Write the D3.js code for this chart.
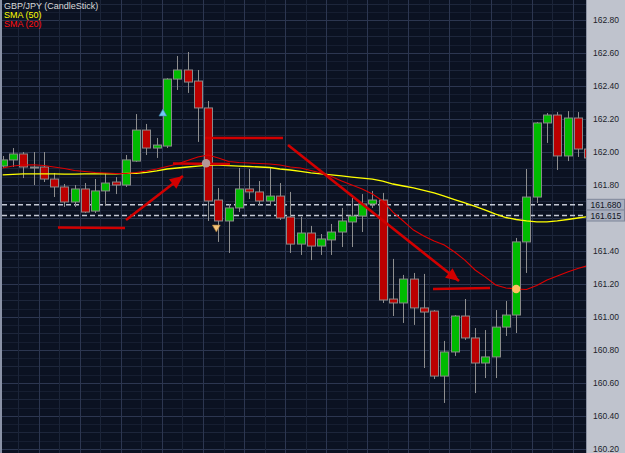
<!DOCTYPE html>
<html>
<head>
<meta charset="utf-8">
<script src="https://cdn.jsdelivr.net/npm/d3@7"></script>
<style>
  body { margin: 0; background: #0b1222; }
  svg { display: block; }
  text { font-family: Arial, "Liberation Sans", sans-serif; }
</style>
</head>
<body>
<div class="grafico"></div>
<script>
// GBP/JPY candles, one per bar
var open = [161.915,161.952,161.988,161.909,161.909,161.836,161.788,161.697,161.776,161.642,
  161.764,161.818,161.800,161.945,162.133,162.024,162.036,162.442,162.497,162.430,
  162.267,161.709,161.582,161.661,161.776,161.758,161.703,161.733,161.606,161.442,
  161.509,161.430,161.467,161.515,161.576,161.612,161.685,161.709,161.109,161.085,
  161.230,161.055,161.036,160.642,160.788,161.006,160.873,160.721,160.758,160.939,
  161.012,161.455,161.727,162.176,162.224,161.976,162.206,162.018];
var high = [161.976,162.024,162.000,162.000,162.000,161.873,161.806,161.800,161.812,161.836,
  161.873,161.848,161.982,162.230,162.170,162.085,162.448,162.582,162.606,162.497,
  162.309,161.782,161.685,161.903,161.897,161.824,161.903,161.812,161.758,161.606,
  161.552,161.503,161.564,161.661,161.721,161.745,161.764,161.752,161.352,161.255,
  161.267,161.261,161.042,160.855,161.012,161.109,160.933,160.921,161.042,161.097,
  161.479,161.897,162.182,162.236,162.242,162.248,162.242,162.030];
var low = [161.903,161.909,161.842,161.800,161.818,161.727,161.667,161.667,161.630,161.630,
  161.673,161.745,161.788,161.940,161.982,161.964,162.024,162.376,162.358,162.061,
  161.582,161.455,161.388,161.636,161.715,161.679,161.679,161.588,161.388,161.376,
  161.345,161.376,161.376,161.424,161.424,161.515,161.661,161.085,161.006,160.964,
  160.952,160.691,160.624,160.479,160.764,160.861,160.539,160.630,160.630,160.885,
  160.903,161.267,161.691,162.055,161.891,161.945,161.970,161.950];
var close = [161.952,161.988,161.909,161.909,161.836,161.788,161.697,161.776,161.636,161.764,
  161.812,161.800,161.952,162.133,162.024,162.042,162.442,162.497,162.424,162.267,
  161.703,161.582,161.661,161.776,161.758,161.703,161.733,161.600,161.442,161.509,
  161.430,161.473,161.515,161.582,161.612,161.685,161.709,161.103,161.085,161.230,
  161.055,161.030,160.642,160.788,161.006,160.873,160.721,160.758,160.939,161.012,
  161.455,161.727,162.176,162.224,161.976,162.206,162.018,161.964];

// moving averages, one value per bar
var sma50 = [161.861,161.864,161.867,161.868,161.867,161.867,161.866,161.866,161.867,161.868,
  161.868,161.867,161.870,161.870,161.876,161.885,161.897,161.903,161.909,161.915,
  161.921,161.921,161.918,161.915,161.912,161.909,161.906,161.897,161.891,161.882,
  161.873,161.867,161.861,161.855,161.848,161.842,161.836,161.824,161.806,161.794,
  161.782,161.767,161.752,161.733,161.712,161.691,161.670,161.648,161.624,161.603,
  161.591,161.582,161.576,161.576,161.582,161.591,161.600,161.609];
var sma20 = [161.903,161.915,161.921,161.923,161.918,161.909,161.900,161.888,161.882,161.876,
  161.873,161.870,161.870,161.876,161.885,161.897,161.912,161.927,161.948,161.970,
  161.982,161.964,161.942,161.936,161.933,161.930,161.927,161.921,161.909,161.903,
  161.888,161.873,161.852,161.824,161.800,161.776,161.745,161.703,161.636,161.582,
  161.527,161.491,161.461,161.436,161.394,161.345,161.285,161.242,161.194,161.176,
  161.170,161.167,161.191,161.224,161.248,161.273,161.294,161.312];

var priceTicks = [162.8,162.6,162.4,162.2,162.0,161.8,161.4,161.2,161.0,160.8,160.6,160.4,160.2];
var levels = [161.680, 161.615];
var legend = [["GBP/JPY (CandleStick)", "#d8d8d8"], ["SMA (50)", "#ffff00"], ["SMA (20)", "#ff1010"]];

// hand drawn stuff: [bar index, price]
var segs = [
  [[6.38,161.542],[12.91,161.539]],
  [[20.70,162.085],[28.29,162.085]],
  [[17.58,161.930],[23.13,161.927]],
  [[42.90,161.170],[48.45,161.176]]
];
var arrows = [
  [[13.01,161.588],[18.55,161.855]],
  [[28.78,162.042],[45.43,161.218]]
];
var signalsUp = [[16.6,162.236]];
var signalsDown = [[21.8,161.539]];
var crossDots = [[20.8,161.932,"#b49898"],[51,161.170,"#ffc060"]];

var W = 625, H = 453, plotR = 586, plotL = 2;

var svg = d3.select(".grafico").append("svg").attr("width", W).attr("height", H);

var x = d3.scaleLinear().domain([1, 58]).range([2.7, 588.1]);
var y = d3.scaleLinear().domain([160.2, 162.8]).range([449, 20]);

svg.append("rect").attr("width", W).attr("height", H).attr("fill", "#0b1222");
svg.append("defs").append("clipPath").attr("id", "clip")
  .append("rect").attr("x", plotL).attr("y", 0).attr("width", plotR - plotL).attr("height", H);

var g = svg.append("g").attr("clip-path", "url(#clip)");

// grid
var hMinor = d3.range(160.05, 162.95, 0.05);
g.selectAll(".hg").data(hMinor).enter().append("line")
  .attr("x1", plotL).attr("x2", plotR)
  .attr("y1", d => Math.round(y(d)) + 0.5).attr("y2", d => Math.round(y(d)) + 0.5)
  .attr("stroke", (d, i) => {
    var k = Math.round(d * 100);
    return k % 20 == 0 ? "#2c3650" : (k % 10 == 0 ? "#1d263b" : "#161e31");
  });
var vLines = d3.range(0.5, 60, 2);
g.selectAll(".vg").data(vLines).enter().append("line")
  .attr("y1", 0).attr("y2", H)
  .attr("x1", d => Math.round(x(d)) + 0.5).attr("x2", d => Math.round(x(d)) + 0.5)
  .attr("stroke", (d, i) => i % 2 == 0 ? "#2c3650" : "#1b2438");

// levels
g.selectAll(".lvl").data(levels).enter().append("line")
  .attr("x1", plotL).attr("x2", plotR)
  .attr("y1", d => y(d)).attr("y2", d => y(d))
  .attr("stroke", "#c4c8d4").attr("stroke-width", 1.4).attr("stroke-dasharray", "5,3");

// candles
var bars = d3.range(58);
g.selectAll(".wick").data(bars).enter().append("line")
  .attr("x1", i => Math.round(x(i + 1)) + 0.5).attr("x2", i => Math.round(x(i + 1)) + 0.5)
  .attr("y1", i => y(high[i])).attr("y2", i => y(low[i]))
  .attr("stroke", "#8e8e8e").attr("stroke-width", 1);
g.selectAll(".body").data(bars).enter().append("rect")
  .attr("x", i => Math.round(x(i + 1)) - 3.5)
  .attr("width", 8)
  .attr("y", i => y(Math.max(open[i], close[i])))
  .attr("height", i => Math.max(1, Math.abs(y(open[i]) - y(close[i]))))
  .attr("fill", i => close[i] > open[i] ? "#00bb00" : (close[i] < open[i] ? "#bb0000" : "#999"))
  .attr("stroke", "#8a8a8a").attr("stroke-width", 1);

// moving averages
var line = d3.line().x((d, i) => x(i + 1)).y(d => y(d));
g.append("path").datum(sma50).attr("d", line).attr("fill", "none")
  .attr("stroke", "#ffff00").attr("stroke-width", 1.3);
g.append("path").datum(sma20).attr("d", line).attr("fill", "none")
  .attr("stroke", "#e00000").attr("stroke-width", 1.1);

// drawings
var red = "#d20000";
g.selectAll(".seg").data(segs.concat(arrows)).enter().append("line")
  .attr("x1", d => x(d[0][0])).attr("y1", d => y(d[0][1]))
  .attr("x2", d => x(d[1][0])).attr("y2", d => y(d[1][1]))
  .attr("stroke", red).attr("stroke-width", 2.6);
g.selectAll(".head").data(arrows).enter().append("path")
  .attr("fill", red)
  .attr("d", d => {
    var x0 = x(d[0][0]), y0 = y(d[0][1]), x1 = x(d[1][0]), y1 = y(d[1][1]);
    var a = Math.atan2(y1 - y0, x1 - x0), L = 13, Wd = 6;
    var bx = x1 - L * Math.cos(a), by = y1 - L * Math.sin(a);
    return "M" + x1 + "," + y1 +
      "L" + (bx + Wd * Math.sin(a)) + "," + (by - Wd * Math.cos(a)) +
      "L" + (bx - Wd * Math.sin(a)) + "," + (by + Wd * Math.cos(a)) + "Z";
  });

g.selectAll(".up").data(signalsUp).enter().append("path")
  .attr("transform", d => "translate(" + x(d[0]) + "," + y(d[1]) + ")")
  .attr("d", "M0,-4L4,3L-4,3Z").attr("fill", "#70c8f4").attr("stroke", "#3a7aa0").attr("stroke-width", 0.6);
g.selectAll(".dn").data(signalsDown).enter().append("path")
  .attr("transform", d => "translate(" + x(d[0]) + "," + y(d[1]) + ")")
  .attr("d", "M0,4L4,-3L-4,-3Z").attr("fill", "#f4c478").attr("stroke", "#a07030").attr("stroke-width", 0.6);
g.selectAll(".dot").data(crossDots).enter().append("circle")
  .attr("cx", d => x(d[0])).attr("cy", d => y(d[1])).attr("r", 4.2)
  .attr("fill", d => d[2]);

// left border
svg.append("line").attr("x1", 1).attr("x2", 1).attr("y1", 0).attr("y2", H)
  .attr("stroke", "#8a92a6").attr("stroke-width", 2);

// price panel
svg.append("rect").attr("x", plotR).attr("y", 0).attr("width", W - plotR).attr("height", H)
  .attr("fill", "#bfc3cd");
svg.append("line").attr("x1", plotR + 0.5).attr("x2", plotR + 0.5).attr("y1", 0).attr("y2", H)
  .attr("stroke", "#8d93a3");

var axis = d3.axisRight(y).tickValues(priceTicks).tickSize(0).tickPadding(7)
  .tickFormat(d3.format(".2f"));
var ax = svg.append("g").attr("transform", "translate(" + plotR + ",0)").call(axis);
ax.select(".domain").remove();
ax.selectAll("text").attr("fill", "#1c1e2a").style("font-size", "8.5px");

var lv = svg.selectAll(".lvlbox").data(levels).enter().append("g")
  .attr("transform", d => "translate(" + plotR + "," + y(d) + ")");
lv.append("rect").attr("x", 0.5).attr("y", -5.5).attr("width", W - plotR - 1).attr("height", 11)
  .attr("fill", "#a9afbf").attr("stroke", "#7f879a");
lv.append("text").attr("x", 4.5).attr("y", 3.2).attr("fill", "#101422")
  .style("font-size", "8.5px").text(d => d3.format(".3f")(d));

// legend
svg.selectAll(".leg").data(legend).enter().append("text")
  .attr("x", 4).attr("y", (d, i) => 9 + i * 9)
  .attr("fill", d => d[1]).style("font-size", "9px").text(d => d[0]);
</script>
</body>
</html>
